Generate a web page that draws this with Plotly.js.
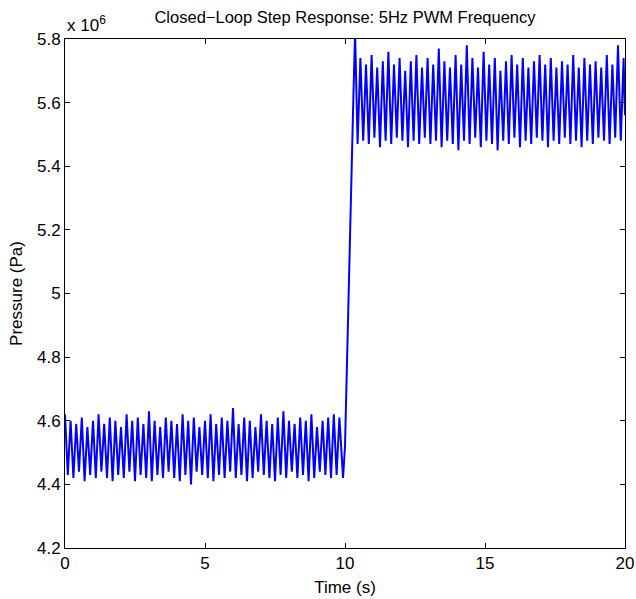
<!DOCTYPE html>
<html>
<head>
<meta charset="utf-8">
<script src="https://cdn.plot.ly/plotly-3.0.1.min.js"></script>
<style>html,body{margin:0;padding:0;background:#fff;}#chart{width:636px;height:599px;}</style>
</head>
<body>
<div id="chart"></div>
<script>
// Time (s) and pressure (x 10^6 Pa) (peaks and troughs)
var lowTime = [0.0,0.1,0.2,0.3,0.4,0.5,0.6,0.7,0.8,0.9,1.0,1.1,1.2,1.3,1.4,1.5,1.6,1.7,1.8,1.9,
2.0,2.1,2.2,2.3,2.4,2.5,2.6,2.7,2.8,2.9,3.0,3.1,3.2,3.3,3.4,3.5,3.6,3.7,3.8,3.9,
4.0,4.1,4.2,4.3,4.4,4.5,4.6,4.7,4.8,4.9,5.0,5.1,5.2,5.3,5.4,5.5,5.6,5.7,5.8,5.9,
6.0,6.1,6.2,6.3,6.4,6.5,6.6,6.7,6.8,6.9,7.0,7.1,7.2,7.3,7.4,7.5,7.6,7.7,7.8,7.9,
8.0,8.1,8.2,8.3,8.4,8.5,8.6,8.7,8.8,8.9,9.0,9.1,9.2,9.3,9.4,9.5,9.6,9.7,9.8,9.93];
var lowPressure = [4.62,4.43,4.60,4.42,4.59,4.44,4.61,4.41,4.58,4.43,4.60,4.42,4.62,4.44,4.59,4.42,4.61,4.41,4.60,4.43,
4.58,4.42,4.62,4.44,4.60,4.41,4.61,4.43,4.59,4.42,4.63,4.41,4.60,4.43,4.58,4.42,4.61,4.44,4.60,4.42,
4.59,4.41,4.62,4.43,4.60,4.40,4.61,4.44,4.58,4.43,4.60,4.42,4.62,4.41,4.59,4.43,4.61,4.42,4.60,4.44,
4.64,4.42,4.59,4.43,4.61,4.41,4.60,4.42,4.58,4.44,4.62,4.43,4.60,4.42,4.59,4.41,4.61,4.43,4.63,4.42,
4.60,4.44,4.59,4.42,4.61,4.43,4.60,4.41,4.62,4.42,4.58,4.44,4.60,4.43,4.61,4.42,4.62,4.43,4.61,4.42];
var stepTime = [10.0,10.1,10.2,10.3,10.36,10.45];
var stepPressure = [4.52,4.92,5.28,5.62,5.82,5.47];
var highTime = [10.55,10.65,10.75,10.85,10.95,11.05,11.15,11.25,11.35,11.45,11.55,11.65,11.75,11.85,11.95,12.05,12.15,12.25,12.35,12.45,
12.55,12.65,12.75,12.85,12.95,13.05,13.15,13.25,13.35,13.45,13.55,13.65,13.75,13.85,13.95,14.05,14.15,14.25,14.35,14.45,
14.55,14.65,14.75,14.85,14.95,15.05,15.15,15.25,15.35,15.45,15.55,15.65,15.75,15.85,15.95,16.05,16.15,16.25,16.35,16.45,
16.55,16.65,16.75,16.85,16.95,17.05,17.15,17.25,17.35,17.45,17.55,17.65,17.75,17.85,17.95,18.05,18.15,18.25,18.35,18.45,
18.55,18.65,18.75,18.85,18.95,19.05,19.15,19.25,19.35,19.45,19.55,19.65,19.75,19.85,19.95,20.0];
var highPressure = [5.74,5.48,5.72,5.47,5.75,5.49,5.71,5.46,5.73,5.48,5.76,5.47,5.72,5.49,5.74,5.48,5.70,5.46,5.73,5.48,
5.75,5.47,5.71,5.49,5.74,5.47,5.72,5.48,5.77,5.46,5.73,5.48,5.71,5.47,5.75,5.45,5.72,5.48,5.78,5.47,
5.74,5.49,5.71,5.46,5.76,5.48,5.72,5.47,5.74,5.45,5.70,5.48,5.73,5.47,5.75,5.49,5.72,5.46,5.74,5.48,
5.71,5.47,5.73,5.49,5.75,5.48,5.72,5.46,5.74,5.48,5.71,5.47,5.73,5.49,5.72,5.47,5.75,5.48,5.71,5.46,
5.74,5.48,5.72,5.47,5.73,5.49,5.71,5.48,5.75,5.47,5.72,5.49,5.78,5.48,5.74,5.56];

var xTickVals = [0,5,10,15,20];
var xTickText = ['0','5','10','15','20'];
var yTickVals = [4.2,4.4,4.6,4.8,5.0,5.2,5.4,5.6,5.8];
var yTickText = ['4.2','4.4','4.6','4.8','5','5.2','5.4','5.6','5.8'];

var x = lowTime.concat(stepTime, highTime);
var y = lowPressure.concat(stepPressure, highPressure);

var font = {family: 'Liberation Sans, Arial, Helvetica, sans-serif', size: 17, color: '#000'};
var titleFont = {family: 'Liberation Sans, Arial, Helvetica, sans-serif', size: 16.5, color: '#000'};

var trace = {
  x: x, y: y, type: 'scatter', mode: 'lines',
  line: {color: '#0000ff', width: 2},
  hoverinfo: 'skip'
};

var axisCommon = {
  showgrid: false, zeroline: false,
  showline: true, linecolor: '#000', linewidth: 1, mirror: 'ticks',
  ticks: 'inside', ticklen: 5, tickwidth: 1, tickcolor: '#000',
  tickfont: font
};

var layout = {
  width: 636, height: 599,
  margin: {l: 65, r: 11, t: 39, b: 51},
  paper_bgcolor: '#fff', plot_bgcolor: '#fff',
  showlegend: false,
  font: font,
  title: {text: 'Closed\u2212Loop Step Response: 5Hz PWM Frequency', font: titleFont,
          xref: 'paper', x: 0.5, xanchor: 'center', yref: 'container', y: 1 - 17/599, yanchor: 'middle'},
  xaxis: Object.assign({}, axisCommon, {
    range: [0, 20], tickmode: 'array', tickvals: xTickVals, ticktext: xTickText,
    title: {text: 'Time (s)', font: font, standoff: 8}
  }),
  yaxis: Object.assign({}, axisCommon, {
    range: [4.2, 5.8], tickmode: 'array', tickvals: yTickVals, ticktext: yTickText,
    title: {text: 'Pressure (Pa)', font: font, standoff: 10}
  }),
  annotations: [{
    text: 'x 10<sup>6</sup>', xref: 'paper', yref: 'paper', x: 0, y: 1,
    xanchor: 'left', yanchor: 'bottom', yshift: 2, showarrow: false, font: font
  }]
};

Plotly.newPlot('chart', [trace], layout, {staticPlot: true, displayModeBar: false});
</script>
</body>
</html>
